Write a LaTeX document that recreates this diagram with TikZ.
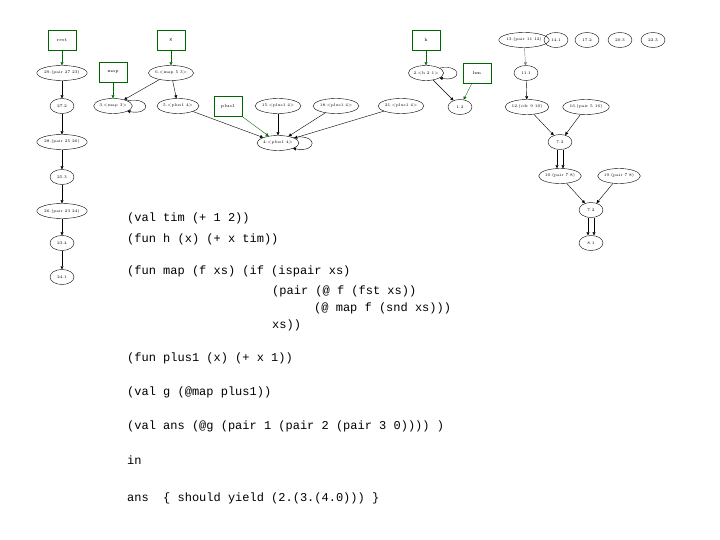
\documentclass[tikz,border=0pt]{standalone}
\usepackage{fontspec}
\newfontfamily\codefont{Liberation Mono}
\usetikzlibrary{arrows.meta}
\tikzset{
	val/.style={draw, ellipse, inner xsep=0pt, inner ysep=1pt, minimum height=15pt, minimum width=24pt, font=\fontsize{4}{5}\selectfont},
	env/.style={draw=green!40!black, rectangle, minimum width=28pt, minimum height=20pt, font=\fontsize{4.5}{5}\selectfont},
	ln/.style={-{Triangle[length=3pt,width=3pt]}, line width=0.4pt},
	gl/.style={ln, draw=green!40!black, -{Triangle[length=3pt,width=3pt,fill=green!40!black]}},
	code/.style={anchor=base west, inner sep=0pt, font=\codefont\fontsize{12}{14}\selectfont}
}
\usetikzlibrary{shapes.geometric}
\begin{document}
\begin{tikzpicture}[x=1pt,y=-1pt]
	\useasboundingbox (0,0) rectangle (720,540);

	% left column
	\node[env] (rest) at (62,40) {rest};
	\node[val] (n29) at (62,73) {29.(pair 27 23)};
	\node[val] (n27) at (62,106) {27.2};
	\node[val] (n28) at (62,142) {28.(pair 25 26)};
	\node[val] (n25) at (62,177) {25.3};
	\node[val] (n26) at (62,211) {26.(pair 23 24)};
	\node[val] (n23) at (62,243) {23.4};
	\node[val] (n24) at (62,277) {24.1};

	% map / plus1 part
	\node[env] (map) at (113,72) {map};
	\node[val] (n3) at (113,106) {3.<map 3>};
	\node[env] (g) at (171,40) {g};
	\node[val] (n6) at (171,73) {6.<map 5 3>};
	\node[val] (n5) at (178,106) {5.<plus1 4>};
	\node[env] (plus) at (228,106) {plus1};
	\node[val] (n15) at (278,106) {15.<plus1 4>};
	\node[val] (n18) at (336,106) {18.<plus1 4>};
	\node[val] (n21) at (401,106) {21.<plus1 4>};
	\node[val] (n4) at (278,143) {4.<plus1 4>};

	% h part
	\node[env] (h) at (426,40) {h};
	\node[val] (n2) at (426,73) {2.<h 2 1>};
	\node[env] (hm) at (477,73) {hm};
	\node[val] (n1) at (460,107) {1.2};

	% right part
	\node[val] (n13) at (524,40) {13.(pair 11 12)};
	\node[val] (n14) at (556,40) {14.1};
	\node[val] (n17) at (587,40) {17.2};
	\node[val] (n20) at (620,40) {20.3};
	\node[val] (n22) at (653,40) {22.3};
	\node[val] (n11) at (526,73) {11.1};
	\node[val] (n12) at (527,107) {12.(cdr 9 10)};
	\node[val] (n16) at (586,107) {16.(pair 5 16)};
	\node[val] (n7) at (560,142) {7.2};
	\node[val] (n10) at (560,176) {10.(pair 7 8)};
	\node[val] (n19) at (619,176) {19.(pair 7 8)};
	\node[val] (n7b) at (591,210) {7.2};
	\node[val] (n8) at (591,243) {8.1};

	% edges
	\draw[gl] (rest) -- (n29);
	\draw[gl] (map) -- (n3);
	\draw[gl] (g) -- (n6);
	\draw[gl] (plus) -- (n4);
	\draw[gl] (h) -- (n2);
	\draw[gl] (hm) -- (n1);
	\draw[ln] (n29) -- (n27);
	\draw[ln] (n27) -- (n28);
	\draw[ln] (n28) -- (n25);
	\draw[ln] (n25) -- (n26);
	\draw[ln] (n26) -- (n23);
	\draw[ln] (n23) -- (n24);
	\draw[ln] (n6) -- (n3);
	\draw[ln] (n6) -- (n5);
	\draw[ln] (n5) -- (n4);
	\draw[ln] (n15) -- (n4);
	\draw[ln] (n18) -- (n4);
	\draw[ln] (n21) -- (n4);
	\draw[ln] (n2) -- (n1);
	\draw[ln, draw=gray] (n13) -- (n11);
	\draw[ln] (n11) -- (n12);
	\draw[ln] (n12) -- (n7);
	\draw[ln] (n16) -- (n7);
	\draw[ln, line width=0.9pt] ([xshift=-3pt]n7.south) -- ([xshift=-3pt]n10.north);
	\draw[ln] ([xshift=3pt]n7.south) -- ([xshift=3pt]n10.north);
	\draw[ln] (n10) -- (n7b);
	\draw[ln] (n19) -- (n7b);
	\draw[ln, line width=0.9pt] ([xshift=-3pt]n7b.south) -- ([xshift=-3pt]n8.north);
	\draw[ln] ([xshift=3pt]n7b.south) -- ([xshift=3pt]n8.north);
	% self loops
	\draw[ln] (n3.20) to[out=10, in=-10, looseness=6] (n3.-20);
	\draw[ln] (n4.20) to[out=10, in=-10, looseness=6] (n4.-20);
	\draw[ln] (n2.20) to[out=10, in=-10, looseness=6] (n2.-20);

	% program text
	\node[code] (c1) at (127,222) {(val tim (+ 1 2))};
	\node[code] (c2) at (127,242) {(fun h (x) (+ x tim))};
	\node[code] (c3) at (127,274) {(fun map (f xs) (if (ispair xs)};
	\node[code] (c4) at (272,294) {(pair (@ f (fst xs))};
	\node[code] (c5) at (314,311) {(@ map f (snd xs)))};
	\node[code] (c6) at (272,328) {xs))};
	\node[code] (c7) at (127,361) {(fun plus1 (x) (+ x 1))};
	\node[code] (c8) at (127,395) {(val g (@map plus1))};
	\node[code] (c9) at (127,429) {(val ans (@g (pair 1 (pair 2 (pair 3 0)))) )};
	\node[code] (c10) at (127,464) {in};
	\node[code] (c11) at (127,501) {ans\ \ \{ should yield (2.(3.(4.0))) \}};
\end{tikzpicture}
\end{document}
